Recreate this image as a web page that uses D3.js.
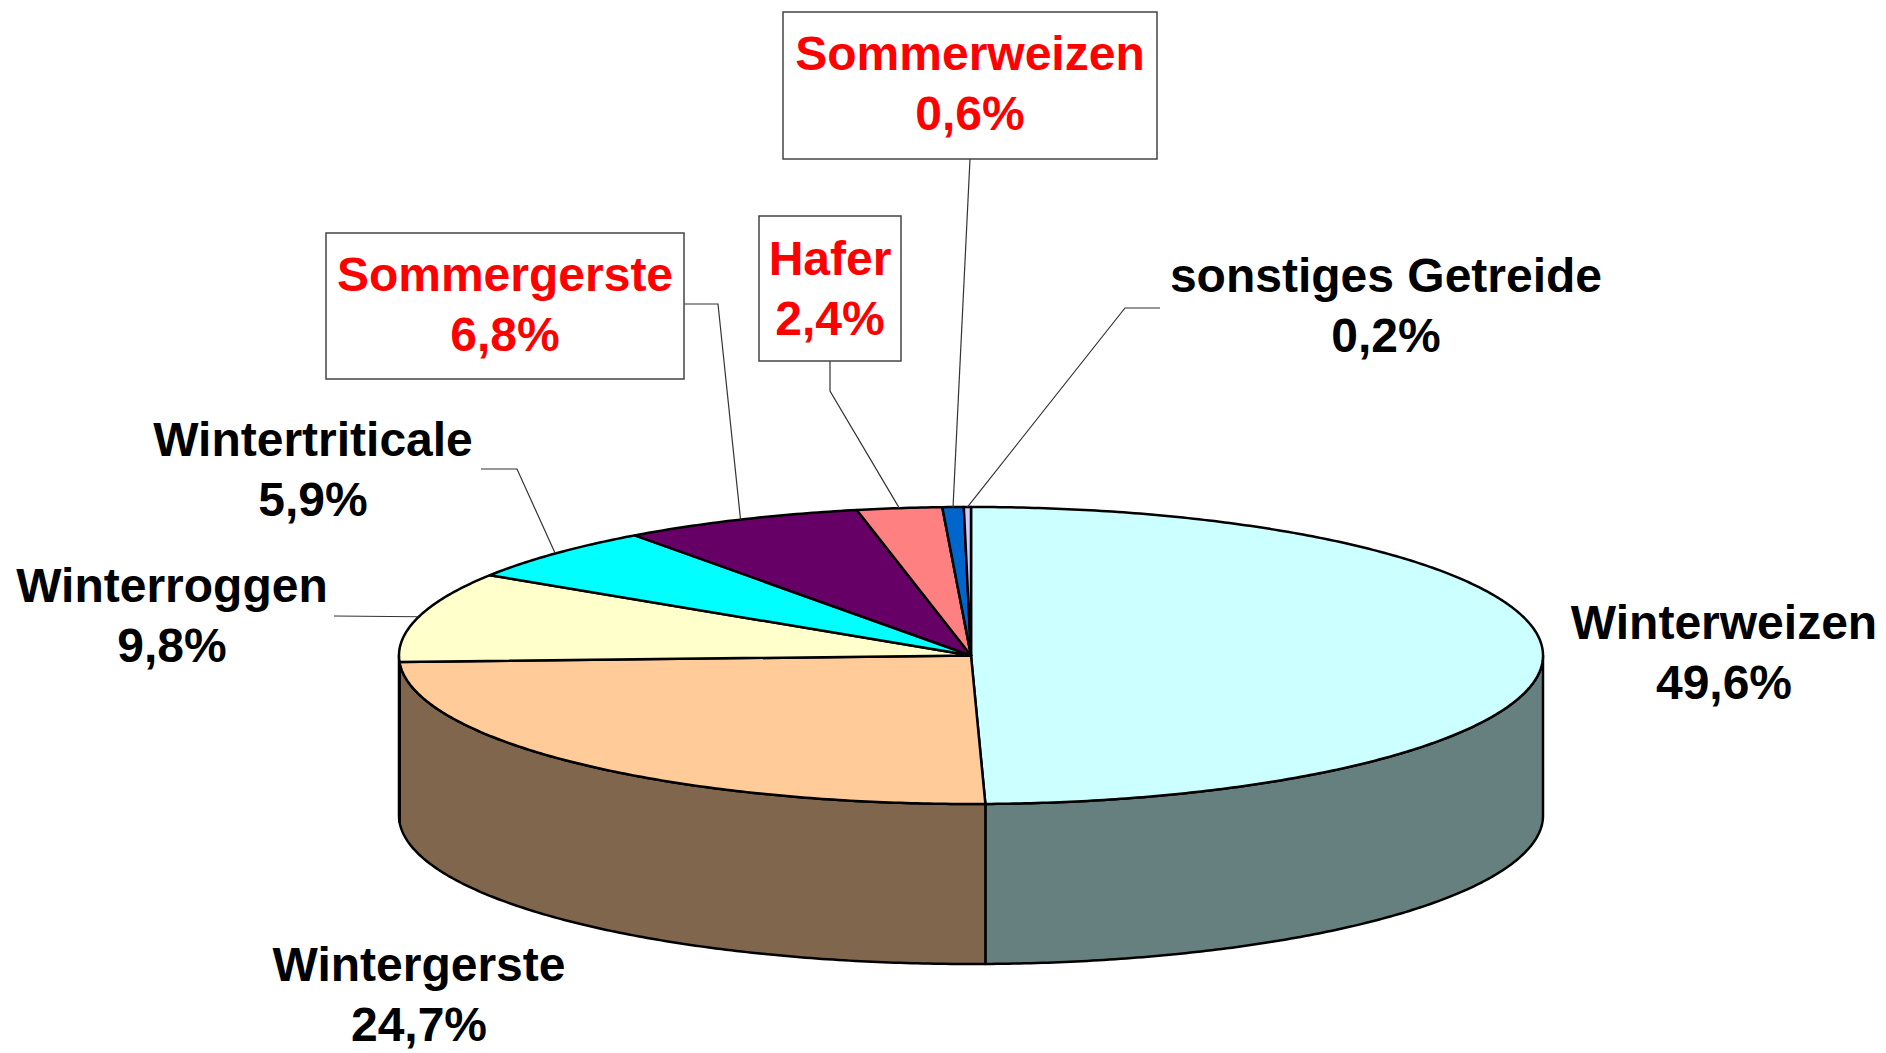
<!DOCTYPE html>
<html>
<head>
<meta charset="utf-8">
<script src="https://cdn.jsdelivr.net/npm/d3@7"></script>
<style>
  body { margin: 0; background: #fff; }
  text { font-family: "Liberation Sans", Arial, sans-serif; font-weight: bold; }
</style>
</head>
<body>
<div id="chart"></div>
<script>
const width = 1886;
const height = 1053;

// data
const categories = ["Winterweizen", "Wintergerste", "Winterroggen", "Wintertriticale",
                    "Sommergerste", "Hafer", "Sommerweizen", "sonstiges Getreide"];
const shares = [49.6, 24.7, 9.8, 5.9, 6.8, 2.4, 0.6, 0.2];
const highlighted = ["Sommergerste", "Hafer", "Sommerweizen"];

// slice colours (top face); the side is drawn at half brightness
const topColors = ["#CCFFFF", "#FFCC99", "#FFFFCC", "#00FFFF", "#660066", "#FF8080", "#0066CC", "#CCCCFF"];

// pie geometry
const cx = 971, cy = 655.5, rx = 572, ry = 148.5, depth = 160;

// label layout: centre x, first baseline, optional box, leader start points
const labelLayout = {
  "Winterweizen":       { x: 1724, y: 639 },
  "Wintergerste":       { x: 419,  y: 981 },
  "Winterroggen":       { x: 172,  y: 602, leader: [[334, 616]] },
  "Wintertriticale":    { x: 313,  y: 456, leader: [[481, 469], [517, 469]] },
  "Sommergerste":       { x: 505,  y: 291, box: [326, 233, 684, 379], leader: [[684, 304], [718, 304]] },
  "Hafer":              { x: 830,  y: 275, box: [759, 216, 901, 361], leader: [[830, 361], [830, 391]] },
  "Sommerweizen":       { x: 970,  y: 70,  box: [783, 12, 1157, 159], leader: [[970, 159]] },
  "sonstiges Getreide": { x: 1386, y: 292, leader: [[1160, 308], [1125, 308]] }
};

const de = d3.formatLocale({ decimal: ",", thousands: ".", grouping: [3], currency: ["", " €"] });
const pct = v => de.format(".1f")(v) + "%";

const svg = d3.select("#chart")
    .append("svg")
    .attr("width", width)
    .attr("height", height);

const pie = d3.pie().sort(null).value(d => d.value);
const arcs = pie(categories.map((c, i) => ({ name: c, value: shares[i], color: topColors[i] })));

function pt(a, dy) {
  return [cx + rx * Math.sin(a), cy - ry * Math.cos(a) + (dy || 0)];
}

function ellipseArc(a0, a1, dy) {
  const n = Math.max(2, Math.ceil(Math.abs(a1 - a0) / 0.01));
  return d3.range(n + 1).map(k => pt(a0 + (a1 - a0) * k / n, dy));
}

function halfTone(c) {
  const r = d3.rgb(c);
  return d3.rgb(r.r / 2, r.g / 2, r.b / 2).formatHex();
}

const line = d3.line();

// side walls (only the front half is visible)
const sides = svg.append("g");
arcs.forEach(d => {
  const s = Math.max(d.startAngle, Math.PI / 2);
  const e = Math.min(d.endAngle, Math.PI * 1.5);
  if (e <= s) return;
  const pts = ellipseArc(s, e, 0).concat(ellipseArc(e, s, depth));
  sides.append("path")
      .attr("d", line(pts) + "Z")
      .attr("fill", halfTone(d.data.color))
      .attr("stroke", "#000")
      .attr("stroke-width", 2.5)
      .attr("stroke-linejoin", "round");
});

// top faces
const tops = svg.append("g");
arcs.forEach(d => {
  const pts = [[cx, cy]].concat(ellipseArc(d.startAngle, d.endAngle, 0));
  tops.append("path")
      .attr("d", line(pts) + "Z")
      .attr("fill", d.data.color)
      .attr("stroke", "#000")
      .attr("stroke-width", 2.5)
      .attr("stroke-linejoin", "round");
});

// labels
const labels = svg.append("g");
arcs.forEach(d => {
  const name = d.data.name;
  const L = labelLayout[name];
  const red = highlighted.includes(name);

  if (L.leader) {
    const mid = pt((d.startAngle + d.endAngle) / 2, 0);
    labels.append("path")
        .attr("d", line(L.leader.concat([mid])))
        .attr("fill", "none")
        .attr("stroke", "#333")
        .attr("stroke-width", 1.2);
  }
  if (L.box) {
    labels.append("rect")
        .attr("x", L.box[0])
        .attr("y", L.box[1])
        .attr("width", L.box[2] - L.box[0])
        .attr("height", L.box[3] - L.box[1])
        .attr("fill", "#fff")
        .attr("stroke", "#444")
        .attr("stroke-width", 1.5);
  }
  const t = labels.append("text")
      .attr("text-anchor", "middle")
      .style("font-size", "48px")
      .attr("fill", red ? "#FF0000" : "#000");
  t.append("tspan").attr("x", L.x).attr("y", L.y).text(name);
  t.append("tspan").attr("x", L.x).attr("y", L.y + 60).text(pct(d.data.value));
});
</script>
</body>
</html>
